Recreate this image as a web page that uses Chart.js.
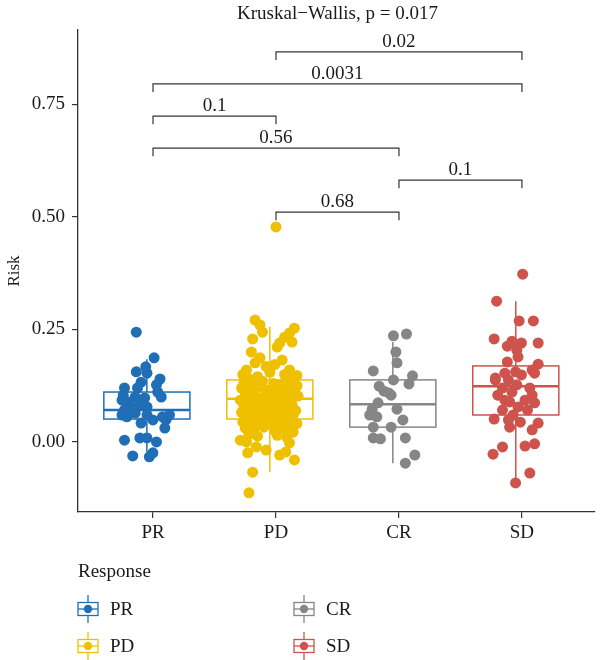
<!DOCTYPE html>
<html>
<head>
<meta charset="utf-8">
<script src="https://cdn.jsdelivr.net/npm/chart.js@4/dist/chart.umd.min.js"></script>
<style>
  html, body { margin: 0; padding: 0; background: #fff; }
  #wrap { width: 600px; height: 660px; }
</style>
</head>
<body>
<div id="wrap"><canvas id="riskChart" width="600" height="660"></canvas></div>
<script>
const categories = ["PR", "PD", "CR", "SD"];
const colors = ["#1f6eb6", "#efc000", "#868686", "#cd534c"];
const yTicks = [0, 0.25, 0.5, 0.75];

// box stats per group
const q1 = [0.051, 0.051, 0.033, 0.060];
const median = [0.071, 0.096, 0.084, 0.124];
const q3 = [0.111, 0.138, 0.138, 0.169];
const whiskerLow = [-0.022, -0.067, -0.047, -0.089];
const whiskerHigh = [0.184, 0.256, 0.222, 0.313];

// boxes (and their points) sit a little left of the tick
const boxShift = -0.05;
const boxHalf = 0.35;

// jittered points: [offset from box centre, risk]
const prPoints = [
  [-0.086,0.244],[0.059,0.187],[-0.009,0.167],[-0.086,0.156],[0.001,0.153],[-0.047,0.133],[0.107,0.140],
  [0.078,0.127],[-0.076,0.120],[-0.182,0.120],[0.088,0.111],[0.117,0.100],[-0.192,0.104],[-0.153,0.089],
  [-0.018,0.098],[-0.057,0.082],[-0.124,0.078],[0.001,0.078],[-0.202,0.060],[-0.163,0.056],[-0.095,0.064],
  [0.001,0.060],[0.184,0.060],[0.155,0.049],[-0.047,0.042],[0.146,0.031],[-0.182,0.004],[-0.057,0.009],
  [0.001,0.009],[0.078,0.000],[-0.115,-0.031],[0.020,-0.033],[0.049,-0.024],[-0.202,0.093],[-0.095,0.100],
  [0.049,0.049],[-0.182,0.071],[0.127,0.056]
];
const pdPoints = [
  [-0.12,0.271],[-0.08,0.260],[-0.06,0.244],[-0.14,0.229],[0.20,0.253],[0.16,0.242],[0.12,0.233],
  [0.08,0.220],[0.18,0.222],[0.06,0.211],[-0.15,0.200],[-0.08,0.187],[0.10,0.182],[-0.19,0.160],
  [0.16,0.160],[-0.03,0.168],[-0.12,0.176],[0.04,0.172],[-0.22,0.150],[0.22,0.148],[-0.10,0.145],
  [0.12,0.150],[0.00,0.155],[-0.17,0.140],[0.19,0.141],[0.05,0.478],
  [-0.21,0.133],[-0.14,0.131],[-0.06,0.135],[0.03,0.130],[0.10,0.128],[0.17,0.132],[0.22,0.125],
  [-0.23,0.120],[-0.16,0.118],[-0.09,0.122],[-0.02,0.115],[0.06,0.119],[0.13,0.113],[0.20,0.111],
  [-0.20,0.107],[-0.12,0.104],[-0.05,0.100],[0.02,0.106],[0.09,0.101],[0.16,0.098],[0.23,0.102],
  [-0.24,0.093],[-0.17,0.091],[-0.10,0.088],[-0.03,0.092],[0.04,0.086],[0.11,0.090],[0.18,0.084],
  [-0.21,0.080],[-0.14,0.077],[-0.07,0.074],[0.00,0.079],[0.07,0.072],[0.14,0.076],[0.21,0.070],
  [-0.23,0.066],[-0.16,0.062],[-0.09,0.064],[-0.02,0.060],[0.05,0.065],[0.12,0.058],[0.19,0.061],
  [-0.19,0.054],[-0.12,0.052],[-0.04,0.055],[0.03,0.053],[0.10,0.050],[0.17,0.056],
  [-0.22,0.045],[-0.15,0.042],[-0.08,0.047],[0.01,0.040],[0.08,0.044],[0.15,0.038],[0.22,0.041],
  [-0.20,0.031],[-0.13,0.028],[-0.05,0.033],[0.04,0.026],[0.12,0.030],[0.19,0.022],
  [-0.17,0.017],[-0.10,0.013],[0.06,0.015],[0.14,0.010],
  [-0.24,0.004],[-0.19,0.000],[-0.11,-0.011],[0.16,-0.002],[-0.18,-0.024],[-0.03,-0.018],
  [0.13,-0.022],[0.08,-0.029],[0.20,-0.040],[-0.14,-0.067],[-0.17,-0.113]
];
const crPoints = [
  [0.005,0.236],[0.111,0.240],[0.025,0.200],[0.034,0.176],[-0.159,0.158],[0.160,0.147],[0.005,0.138],
  [0.131,0.129],[-0.111,0.124],[-0.072,0.113],[-0.014,0.104],[-0.120,0.087],[-0.168,0.073],[0.034,0.073],
  [-0.130,0.056],[0.082,0.049],[-0.159,0.033],[-0.014,0.033],[-0.159,0.009],[-0.101,0.007],[0.102,0.009],
  [0.179,-0.029],[0.102,-0.047],[-0.188,0.060],[-0.033,0.109]
];
const sdPoints = [
  [0.056,0.373],[-0.156,0.313],[0.027,0.269],[0.143,0.269],[-0.176,0.229],[-0.031,0.224],[0.046,0.220],
  [0.182,0.220],[-0.069,0.213],[0.008,0.204],[0.018,0.189],[-0.069,0.178],[0.182,0.173],[0.133,0.160],
  [-0.166,0.142],[0.153,0.153],[-0.166,0.138],[-0.060,0.138],[0.046,0.149],[-0.108,0.120],[0.008,0.127],
  [0.114,0.120],[-0.147,0.104],[0.133,0.104],[-0.050,0.089],[0.153,0.087],[-0.108,0.071],[0.095,0.071],
  [-0.021,0.060],[-0.176,0.051],[-0.060,0.049],[0.037,0.044],[0.182,0.042],[-0.050,0.033],[0.133,0.027],
  [-0.108,-0.011],[-0.185,-0.027],[0.075,-0.009],[0.153,-0.004],[0.114,-0.069],[-0.002,-0.091],
  [-0.089,0.153],[-0.002,0.156],[-0.031,0.111],[0.075,0.093],[-0.089,0.093],[0.018,0.078]
];
const groupPoints = [prPoints, pdPoints, crPoints, sdPoints];

// pairwise comparisons
const bracketPairs = [[1, 3], [0, 3], [0, 1], [0, 2], [2, 3], [1, 2]];
const bracketY = [0.867, 0.796, 0.724, 0.653, 0.582, 0.511];
const bracketLabels = ["0.02", "0.0031", "0.1", "0.56", "0.1", "0.68"];
const titleText = "Kruskal\u2212Wallis, p = 0.017";

const FONT = "'Liberation Serif', 'DejaVu Serif', serif";
const INK = "#1a1a1a";
const bracketTip = 0.018;

const boxPlugin = {
  id: "boxes",
  beforeDatasetsDraw(chart) {
    const { ctx, scales: { x, y } } = chart;
    categories.forEach((c, i) => {
      const cx = x.getPixelForValue(i + boxShift);
      const l = x.getPixelForValue(i + boxShift - boxHalf);
      const r = x.getPixelForValue(i + boxShift + boxHalf);
      const top = y.getPixelForValue(q3[i]);
      const bot = y.getPixelForValue(q1[i]);
      ctx.save();
      ctx.strokeStyle = colors[i];
      ctx.lineWidth = 1.5;
      ctx.beginPath();
      ctx.moveTo(cx, y.getPixelForValue(whiskerHigh[i]));
      ctx.lineTo(cx, top);
      ctx.moveTo(cx, bot);
      ctx.lineTo(cx, y.getPixelForValue(whiskerLow[i]));
      ctx.stroke();
      ctx.fillStyle = "#fff";
      ctx.fillRect(l, top, r - l, bot - top);
      ctx.strokeRect(l, top, r - l, bot - top);
      ctx.lineWidth = 2.5;
      const m = y.getPixelForValue(median[i]);
      ctx.beginPath();
      ctx.moveTo(l, m);
      ctx.lineTo(r, m);
      ctx.stroke();
      ctx.restore();
    });
  },
  afterDraw(chart) {
    const { ctx, scales: { x, y } } = chart;
    ctx.save();
    ctx.fillStyle = INK;
    ctx.font = "19px " + FONT;
    ctx.textAlign = "center";
    ctx.textBaseline = "alphabetic";
    // overall test, centred over the groups
    ctx.fillText(titleText, x.getPixelForValue(1.5), 19);

    // brackets
    ctx.strokeStyle = "#333";
    ctx.lineWidth = 1.2;
    bracketPairs.forEach(([a, b], k) => {
      const xa = x.getPixelForValue(a), xb = x.getPixelForValue(b);
      const yy = y.getPixelForValue(bracketY[k]);
      const yt = y.getPixelForValue(bracketY[k] - bracketTip);
      ctx.beginPath();
      ctx.moveTo(xa, yt);
      ctx.lineTo(xa, yy);
      ctx.lineTo(xb, yy);
      ctx.lineTo(xb, yt);
      ctx.stroke();
      ctx.fillText(bracketLabels[k], (xa + xb) / 2, yy - 5);
    });
    ctx.restore();

    // legend
    ctx.save();
    ctx.fillStyle = INK;
    ctx.font = "19px " + FONT;
    ctx.textBaseline = "middle";
    ctx.textAlign = "left";
    ctx.fillText("Response", 78, 572);
    chart.data.datasets.forEach((ds, i) => {
      const col = Math.floor(i / 2);
      const row = i % 2;
      const gx = col === 0 ? 88 : 304;
      const gy = row === 0 ? 609 : 646;
      ctx.strokeStyle = ds.backgroundColor;
      ctx.lineWidth = 1.3;
      ctx.beginPath();
      ctx.moveTo(gx, gy - 14);
      ctx.lineTo(gx, gy + 14);
      ctx.stroke();
      ctx.fillStyle = "#fff";
      ctx.fillRect(gx - 10, gy - 6.5, 20, 13);
      ctx.strokeRect(gx - 10, gy - 6.5, 20, 13);
      ctx.beginPath();
      ctx.moveTo(gx - 10, gy);
      ctx.lineTo(gx + 10, gy);
      ctx.stroke();
      ctx.fillStyle = ds.backgroundColor;
      ctx.beginPath();
      ctx.arc(gx, gy, 4.2, 0, Math.PI * 2);
      ctx.fill();
      ctx.fillStyle = INK;
      ctx.fillText(ds.label, gx + 22, gy + 1);
    });
    ctx.restore();
  }
};

const datasets = categories.map((c, i) => ({
  label: c,
  data: groupPoints[i].map(([dx, v]) => ({ x: i + boxShift + dx, y: v })),
  backgroundColor: colors[i],
  borderWidth: 0,
  pointRadius: 5.5,
  pointHoverRadius: 5.5
}));

new Chart(document.getElementById("riskChart"), {
  type: "scatter",
  data: { datasets },
  plugins: [boxPlugin],
  options: {
    responsive: false,
    animation: false,
    layout: { padding: { left: 0, right: 0, top: 30, bottom: 115 } },
    plugins: {
      legend: { display: false },
      tooltip: { enabled: false },
      title: { display: false }
    },
    scales: {
      x: {
        type: "linear",
        min: -0.61,
        max: 3.59,
        afterBuildTicks: (scale) => { scale.ticks = categories.map((c, i) => ({ value: i })); },
        afterFit: (scale) => { scale.height = 33; },
        ticks: {
          color: INK,
          font: { family: FONT, size: 19 },
          padding: 4,
          callback: (v) => categories[v]
        },
        grid: { display: true, drawOnChartArea: false, drawTicks: true, tickLength: 6, color: "#333", lineWidth: 1.2 },
        border: { display: true, color: "#333", width: 1.3 }
      },
      y: {
        min: -0.1556,
        max: 0.9156,
        afterBuildTicks: (scale) => { scale.ticks = yTicks.map(v => ({ value: v })); },
        afterFit: (scale) => { scale.width = 78; },
        ticks: {
          color: INK,
          font: { family: FONT, size: 19 },
          padding: 7,
          callback: (v) => v.toFixed(2)
        },
        title: {
          display: true,
          text: "Risk",
          color: INK,
          font: { family: FONT, size: 17 },
          padding: { top: 4, bottom: 0 }
        },
        grid: { display: true, drawOnChartArea: false, drawTicks: true, tickLength: 6, color: "#333", lineWidth: 1.2 },
        border: { display: true, color: "#333", width: 1.3 }
      }
    }
  }
});
</script>
</body>
</html>
